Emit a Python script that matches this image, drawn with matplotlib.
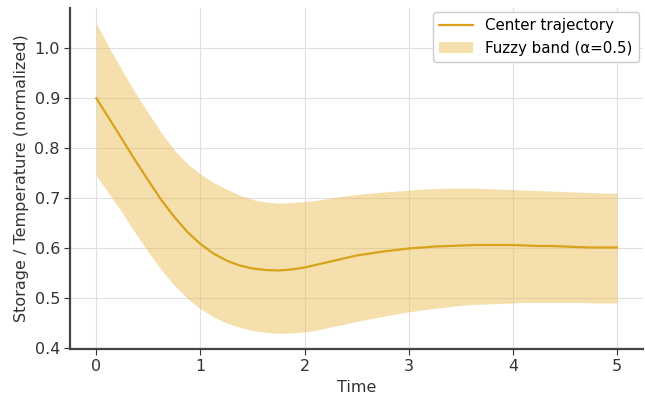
import numpy as np
from matplotlib import pyplot as plt

# values (every 0.125 time units)
time = [i * 0.125 for i in range(41)]
center = [0.900, 0.859, 0.817, 0.775, 0.735, 0.696, 0.662, 0.632, 0.608, 0.589,
          0.575, 0.565, 0.559, 0.556, 0.555, 0.557, 0.561, 0.567, 0.573, 0.579,
          0.585, 0.589, 0.593, 0.596, 0.599, 0.601, 0.603, 0.604, 0.605, 0.606,
          0.606, 0.606, 0.606, 0.605, 0.604, 0.604, 0.603, 0.602, 0.601, 0.601,
          0.601]
upper = [1.050, 1.001, 0.955, 0.911, 0.870, 0.831, 0.796, 0.769, 0.748, 0.731,
         0.718, 0.706, 0.697, 0.692, 0.690, 0.691, 0.693, 0.696, 0.700, 0.704,
         0.707, 0.710, 0.712, 0.714, 0.716, 0.718, 0.719, 0.720, 0.720, 0.720,
         0.719, 0.718, 0.717, 0.716, 0.715, 0.714, 0.713, 0.712, 0.711, 0.710,
         0.710]
lower = [0.745, 0.708, 0.670, 0.630, 0.592, 0.556, 0.525, 0.499, 0.478, 0.462,
         0.450, 0.441, 0.435, 0.431, 0.429, 0.430, 0.432, 0.436, 0.442, 0.447,
         0.453, 0.458, 0.463, 0.468, 0.472, 0.476, 0.479, 0.482, 0.485, 0.487,
         0.488, 0.489, 0.490, 0.491, 0.491, 0.491, 0.491, 0.491, 0.490, 0.490,
         0.490]

fig, ax = plt.subplots(figsize=(6.45, 3.96), dpi=100)
fig.subplots_adjust(left=0.109, right=0.997, top=0.98, bottom=0.119)

ax.plot(time, center, color='#d9a21b', lw=1.6, label='Center trajectory')
ax.fill_between(time, lower, upper, color='#e9b94a', alpha=0.45, lw=0,
                label='Fuzzy band (α=0.5)')

ax.set_xlabel('Time', fontsize=11.5, color='#333333')
ax.set_ylabel('Storage / Temperature (normalized)', fontsize=11.5, color='#333333')
ax.grid(True, color='#e0e0e0', lw=0.8)
ax.set_axisbelow(True)
for s in ['top', 'right']:
    ax.spines[s].set_visible(False)
for s in ['left', 'bottom']:
    ax.spines[s].set_linewidth(1.6)
    ax.spines[s].set_color('#444444')
ax.tick_params(labelsize=11.5, colors='#333333', length=4)
ax.legend(loc='upper right', fontsize=10.8, framealpha=1, edgecolor='#cccccc',
          handlelength=2.3, borderaxespad=0.3)

plt.savefig('out.png', dpi=100)
